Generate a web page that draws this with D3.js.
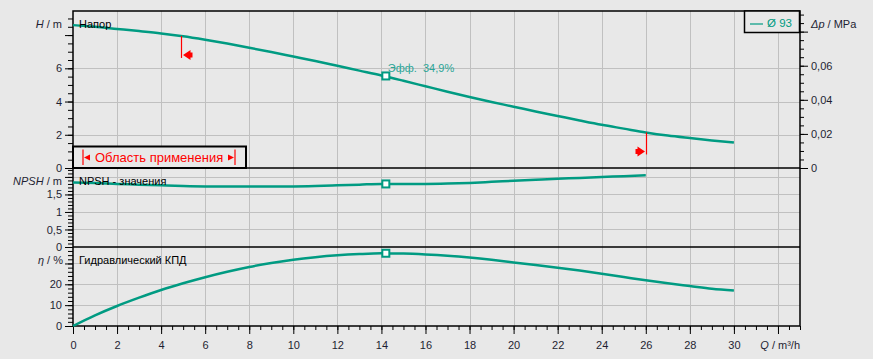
<!DOCTYPE html>
<html>
<head>
<meta charset="utf-8">
<script src="https://cdn.jsdelivr.net/npm/d3@7"></script>
<style>
  body { margin: 0; background: #e8e8e8; }
  text { font-family: "Liberation Sans", Arial, sans-serif; }
</style>
</head>
<body>
<div id="chart"></div>
<script>
// pump curve values
const flow = [0,1,2,3,4,5,6,7,8,9,10,11,12,13,14,15,16,17,18,19,20,21,22,23,24,25,26,27,28,29,30];
const head = [8.6,8.5,8.37,8.24,8.1,7.93,7.72,7.49,7.24,6.98,6.71,6.44,6.15,5.86,5.57,5.25,4.92,4.59,4.27,3.97,3.69,3.4,3.13,2.86,2.6,2.37,2.14,1.95,1.8,1.66,1.53];
const efficiency = [0,5.1,9.6,13.6,17.3,20.5,23.4,26,28.3,30.2,31.8,33,33.9,34.5,34.85,34.75,34.35,33.75,32.9,31.8,30.5,29.3,28,26.6,25.1,23.5,21.9,20.5,19.2,17.9,17];
const npshFlow = [0,1,2,3,4,5,6,7,8,9,10,11,12,13,14,15,16,17,18,19,20,21,22,23,24,25,26];
const npsh = [1.84,1.83,1.8,1.78,1.76,1.74,1.73,1.73,1.73,1.73,1.73,1.74,1.76,1.78,1.8,1.8,1.8,1.81,1.83,1.86,1.89,1.92,1.95,1.97,2.0,2.02,2.05];

const duty = {q: 14.2, h: 5.54, npsh: 1.8, eff: 34.9};
const limits = [4.9, 26];

const xTicks = [0,2,4,6,8,10,12,14,16,18,20,22,24,26,28,30];
const headTicks = [0,2,4,6];
const dpTicks = [0,0.02,0.04,0.06];
const npshTicks = [0,0.5,1,1.5];
const effTicks = [0,10,20];

function drawPumpChart() {
	const width = 873, height = 359;
	const left = 73, right = 800;
	const top = 11, sep1 = 168, sep2 = 247, bottom = 326;
	const teal = "#009b82";
	const grid = "#c0c0c0";
	const ink = "#1e1e32";
	const red = "#ff0000";

	const fmt = d => String(d).replace(".", ",");

	const xscale = d3.scaleLinear().domain([0, 33]).range([left, right]);
	const hscale = d3.scaleLinear().domain([0, 9.45]).range([sep1, top]);
	const pscale = d3.scaleLinear().domain([0, 0.0921]).range([sep1, top]);
	const nscale = d3.scaleLinear().domain([0, 2.255]).range([sep2, sep1]);
	const escale = d3.scaleLinear().domain([0, 37.9]).range([bottom, sep2]);

	const svg = d3.select("#chart").append("svg")
		.attr("width", width).attr("height", height);

	svg.append("rect").attr("width", width).attr("height", height).attr("fill", "#e8e8e8");

	// ============================
	// Grid
	// ============================
	const gridG = svg.append("g").attr("stroke", grid).attr("stroke-width", 1);
	gridG.selectAll(".vx")
		.data(d3.range(2, 33, 2))
		.join("line").attr("class", "vx")
		.attr("x1", d => Math.round(xscale(d)) + 0.5).attr("x2", d => Math.round(xscale(d)) + 0.5)
		.attr("y1", top).attr("y2", bottom);

	const hGrid = (cls, values, scale) => gridG.selectAll("." + cls)
		.data(values)
		.join("line").attr("class", cls)
		.attr("x1", left).attr("x2", right)
		.attr("y1", d => Math.round(scale(d)) + 0.5).attr("y2", d => Math.round(scale(d)) + 0.5);
	hGrid("hh", [2, 4, 6], hscale);
	hGrid("hn", [0.5, 1, 1.5, 2], nscale);
	hGrid("he", [10, 20, 30], escale);

	// ============================
	// Axes: minor ticks + major ticks with labels
	// ============================
	const axis = (g, ax) => {
		g.call(ax);
		g.select(".domain").remove();
		g.selectAll("line").attr("stroke", "#000");
		g.selectAll("text").attr("fill", ink).attr("font-size", 11)
			.attr("font-family", "Liberation Sans, Arial, sans-serif");
	};

	const leftAxis = (scale, minor, major, labels) => {
		svg.append("g").attr("transform", `translate(${left},0)`)
			.call(g => axis(g, d3.axisLeft(scale).tickValues(minor).tickSize(5).tickFormat("")));
		svg.append("g").attr("transform", `translate(${left},0)`)
			.call(g => axis(g, d3.axisLeft(scale).tickValues(major).tickSize(8).tickPadding(3)
				.tickFormat(d => labels.includes(d) ? fmt(d) : "")));
	};

	leftAxis(hscale, d3.range(0, 9.3, 0.5), [0, 2, 4, 6, 8], headTicks);
	leftAxis(nscale, d3.range(0, 2.25, 0.1).map(d => +d.toFixed(1)), [0, 0.5, 1, 1.5, 2], npshTicks);
	leftAxis(escale, d3.range(0, 38, 2), [0, 10, 20, 30], effTicks);

	svg.append("g").attr("transform", `translate(${right},0)`)
		.call(g => axis(g, d3.axisRight(pscale).tickValues(d3.range(0, 0.092, 0.005)).tickSize(4).tickFormat("")));
	svg.append("g").attr("transform", `translate(${right},0)`)
		.call(g => axis(g, d3.axisRight(pscale).tickValues([0, 0.02, 0.04, 0.06, 0.08]).tickSize(8).tickPadding(3)
			.tickFormat(d => dpTicks.includes(d) ? fmt(d) : "")));

	svg.append("g").attr("transform", `translate(0,${bottom})`)
		.call(g => axis(g, d3.axisBottom(xscale).tickValues(d3.range(0, 33.1, 0.5)).tickSize(4).tickFormat("")));
	svg.append("g").attr("transform", `translate(0,${bottom})`)
		.call(g => axis(g, d3.axisBottom(xscale).tickValues(d3.range(0, 33, 2)).tickSize(8).tickPadding(7)
			.tickFormat(d => xTicks.includes(d) ? fmt(d) : "")));

	// frame and panel separators
	const frame = svg.append("g").attr("stroke", "#000").attr("stroke-width", 1.5).attr("fill", "none");
	frame.append("rect").attr("x", left).attr("y", top).attr("width", right - left).attr("height", bottom - top);
	[sep1, sep2].forEach(y => frame.append("line").attr("x1", left).attr("x2", right).attr("y1", y).attr("y2", y));

	// ============================
	// Curves
	// ============================
	const headLine = d3.line().curve(d3.curveMonotoneX).x((d, i) => xscale(flow[i])).y(d => hscale(d));
	const effLine = d3.line().curve(d3.curveMonotoneX).x((d, i) => xscale(flow[i])).y(d => escale(d));
	const npshLine = d3.line().curve(d3.curveMonotoneX).x((d, i) => xscale(npshFlow[i])).y(d => nscale(d));

	const curves = svg.append("g").attr("fill", "none").attr("stroke", teal).attr("stroke-width", 2.5);
	curves.append("path").attr("d", headLine(head));
	curves.append("path").attr("d", npshLine(npsh));
	curves.append("path").attr("d", effLine(efficiency));

	// duty point markers
	svg.append("g").attr("fill", "#fff").attr("stroke", teal).attr("stroke-width", 2)
		.selectAll("rect")
		.data([hscale(duty.h), nscale(duty.npsh), escale(duty.eff)])
		.join("rect")
		.attr("x", xscale(duty.q) - 3.5).attr("y", d => d - 3.5)
		.attr("width", 7).attr("height", 7);

	svg.append("text")
		.attr("x", xscale(duty.q) + 2).attr("y", hscale(duty.h) - 4)
		.attr("font-size", 11).attr("fill", "#2aa596")
		.style("white-space", "pre")
		.text("Эфф.  " + fmt(duty.eff) + "%");

	// ============================
	// Application range limits
	// ============================
	const headAt = q => d3.scaleLinear().domain(flow).range(head)(q);
	const lim = svg.append("g");
	limits.forEach((q, i) => {
		const x = Math.round(xscale(q)) + 0.5;
		const yTop = hscale(headAt(q));
		const yFlag = yTop + 19;
		const dir = i === 0 ? 1 : -1;
		lim.append("line").attr("x1", x).attr("x2", x)
			.attr("y1", yTop).attr("y2", yTop + 22)
			.attr("stroke", red).attr("stroke-width", 1.2);
		lim.append("path")
			.attr("d", `M${x + dir * 1.5},${yFlag} L${x + dir * 9},${yFlag - 5} L${x + dir * 9},${yFlag + 5} Z` +
				` M${x + dir * 8},${yFlag - 2.5} L${x + dir * 11},${yFlag - 2.5} L${x + dir * 11},${yFlag + 2.5} L${x + dir * 8},${yFlag + 2.5} Z`)
			.attr("fill", red);
	});

	// "Область применения" legend
	const lg = svg.append("g");
	lg.append("rect").attr("x", left).attr("y", 146.5).attr("width", 173).attr("height", 21.5)
		.attr("fill", "#e8e8e8").attr("stroke", "#000").attr("stroke-width", 2);
	lg.append("line").attr("x1", 83).attr("x2", 83).attr("y1", 149.5).attr("y2", 165).attr("stroke", red).attr("stroke-width", 1.2);
	lg.append("line").attr("x1", 235).attr("x2", 235).attr("y1", 149.5).attr("y2", 165).attr("stroke", red).attr("stroke-width", 1.2);
	lg.append("path").attr("d", "M84,157.5 L90,154.5 L90,160.5 Z").attr("fill", red);
	lg.append("path").attr("d", "M234,157.5 L228,154.5 L228,160.5 Z").attr("fill", red);
	lg.append("text").attr("x", 95).attr("y", 162).attr("font-size", 13).attr("fill", red)
		.text("Область применения");

	// "Ø 93" legend
	const lg2 = svg.append("g");
	lg2.append("rect").attr("x", 744.5).attr("y", 11).attr("width", 55).attr("height", 21.5)
		.attr("fill", "#e8e8e8").attr("stroke", "#000").attr("stroke-width", 1.5);
	lg2.append("line").attr("x1", 750).attr("x2", 763).attr("y1", 24).attr("y2", 24).attr("stroke", teal).attr("stroke-width", 1.2);
	lg2.append("text").attr("x", 767).attr("y", 27).attr("font-size", 11.5).attr("fill", teal).text("Ø 93");

	// panel titles
	const titles = svg.append("g").attr("font-size", 11).attr("fill", "#000");
	titles.append("text").attr("x", 79).attr("y", 28).text("Напор");
	titles.append("text").attr("x", 79).attr("y", 185).text("NPSH - значения");
	titles.append("text").attr("x", 79).attr("y", 264).text("Гидравлический КПД");

	// axis titles
	const axTitle = (x, y, anchor, italic, rest) => {
		const t = svg.append("text").attr("x", x).attr("y", y).attr("text-anchor", anchor)
			.attr("font-size", 11).attr("fill", ink);
		t.append("tspan").attr("font-style", "italic").text(italic);
		t.append("tspan").text(rest);
	};
	axTitle(62, 28, "end", "H", " / m");
	axTitle(62, 185, "end", "NPSH", " / m");
	axTitle(63, 264, "end", "η", " / %");
	axTitle(811, 28, "start", "Δp", " / MPa");
	axTitle(800, 349, "end", "Q", " / m³/h");
}

drawPumpChart();
</script>
</body>
</html>
